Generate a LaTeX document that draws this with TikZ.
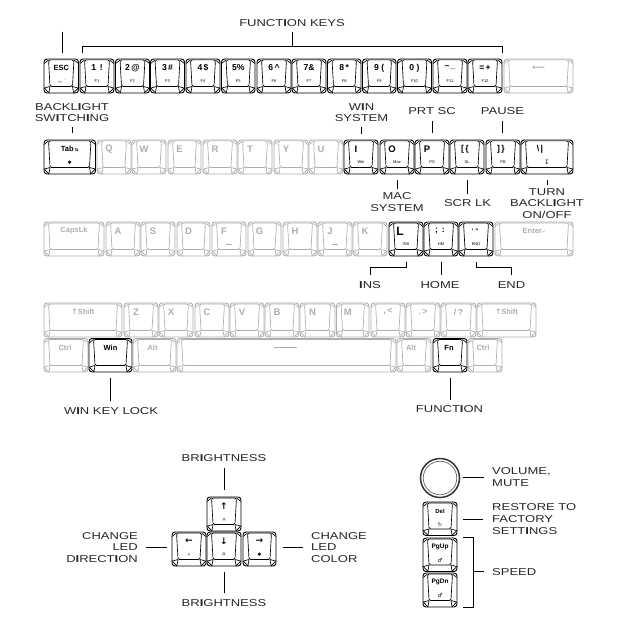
\documentclass[tikz,border=0pt]{standalone}
\usepackage{fontspec}
\setmainfont{Liberation Sans}
\newfontfamily\labfont[FakeStretch=1.3]{Liberation Sans}
\newfontfamily\symfont{DejaVu Sans}
\newcommand\I{{\bfseries I}}
\newcommand\sy[1]{{\symfont #1}}
\newcommand\bigk[1]{{\fontsize{9.5bp}{10bp}\selectfont #1}}
\newcommand\midk[1]{{\fontsize{8.6bp}{9bp}\selectfont #1}}
\newcommand\arrk[1]{{\fontsize{9bp}{9bp}\selectfont\symfont\bfseries #1}}
\def\kcol{black}\def\ytop{59}\def\ybot{93}
\newcommand\kk[6]{%
  % name, x1, x2, legend dx, legend, sublegend
  \pgfmathsetmacro\kcx{(#2+#3)/2}\pgfmathsetmacro\kcy{(\ytop+\ybot)/2}%
  \pgfmathsetmacro\kw{#3-#2}\pgfmathsetmacro\kh{\ybot-\ytop}%
  \pgfmathsetmacro\klx{\kcx+#4}\pgfmathsetmacro\kly{\ytop+9}\pgfmathsetmacro\ksy{\ytop+22.5}%
  \node[keycap,draw=\kcol,minimum width=\kw bp,minimum height=\kh bp] (#1) at (\kcx,\kcy) {};
  \draw[keyline,draw=\kcol,rounded corners=1.6bp]
    ([shift={(5,1.4)}]#1.north west) -- ([shift={(-5,1.4)}]#1.north east)
    -- ([shift={(-6.5,-7)}]#1.south east) -- ([shift={(6.5,-7)}]#1.south west) -- cycle;
  \draw[keyline,draw=\kcol]
    ([shift={(0.6,5)}]#1.north west) -- ([shift={(5,1.4)}]#1.north west)
    ([shift={(-0.6,5)}]#1.north east) -- ([shift={(-5,1.4)}]#1.north east)
    ([shift={(0.7,-5.4)}]#1.south west) -- ([shift={(6.5,-7)}]#1.south west) -- ([shift={(5.4,-0.7)}]#1.south west) -- cycle
    ([shift={(-0.7,-5.4)}]#1.south east) -- ([shift={(-6.5,-7)}]#1.south east) -- ([shift={(-5.4,-0.7)}]#1.south east) -- cycle;
  \node[legend,text=\kcol] (#1-a) at (\klx,\kly) {#5};
  \node[sublegend,text=\kcol] (#1-b) at (\kcx,\ksy) {#6};
}
\tikzset{
  keycap/.style={rectangle,rounded corners=3bp,inner sep=0pt,line width=0.95bp,fill=none},
  keyline/.style={line width=0.65bp},
  legend/.style={inner sep=0pt,font=\fontsize{7.5bp}{8bp}\selectfont\bfseries},
  sublegend/.style={inner sep=0pt,font=\fontsize{4bp}{4bp}\selectfont},
  lab/.style={inner sep=0pt,align=center,font=\labfont\fontsize{10bp}{11.6bp}\selectfont,text=black!85},
  conn/.style={line width=0.8bp,draw=black},
}
\colorlet{ghost}{black!32}
\begin{document}
\begin{tikzpicture}[x=1bp,y=-1bp]
\useasboundingbox (0,0) rectangle (627,642);
% function row
\def\kcol{black}\def\ytop{59}\def\ybot{93}
\kk{k-esc}{44}{78.5}{0}{ESC}{$\sim$ \`{}}
\kk{k-1}{80}{114}{0}{\midk{1\ \,!}}{F1}
\kk{k-2}{115.5}{149.5}{0}{\midk{2\,@}}{F2}
\kk{k-3}{150.5}{184.5}{0}{\midk{3\,\#}}{F3}
\kk{k-4}{186}{220}{0}{\midk{4\,\$}}{F4}
\kk{k-5}{221.5}{255}{0}{\midk{5\%}}{F5}
\kk{k-6}{257}{291}{0}{\midk{6\,\textasciicircum}}{F6}
\kk{k-7}{292}{326}{0}{\midk{7\&}}{F7}
\kk{k-8}{327.5}{361}{0}{\midk{8\,*}}{F8}
\kk{k-9}{362.5}{396}{0}{\midk{9\ (}}{F9}
\kk{k-0}{397.5}{431.5}{0}{\midk{0\ )}}{F10}
\kk{k-min}{433}{467}{0}{\midk{–\,\_}}{F11}
\kk{k-eq}{468}{502}{0}{\midk{=\,+}}{F12}
\def\kcol{ghost}
\kk{k-bs}{504}{573}{0}{\arrk{⟵}}{}
% qwerty row
\def\ytop{140}\def\ybot{174}
\def\kcol{black}
\kk{k-tab}{44}{95.5}{0}{Tab\,{\fontsize{4.5bp}{4bp}\selectfont\sy{⇆}}}{\fontsize{5bp}{5bp}\selectfont\sy{✱}}
\def\kcol{ghost}
\kk{k-q}{97}{131}{-5}{\bigk{Q}}{}
\kk{k-w}{132}{166}{-5}{\bigk{W}}{}
\kk{k-e}{168}{201}{-5}{\bigk{E}}{}
\kk{k-r}{203}{237}{-5}{\bigk{R}}{}
\kk{k-t}{238}{272}{-5}{\bigk{T}}{}
\kk{k-y}{274}{308}{-5}{\bigk{Y}}{}
\kk{k-u}{309}{343}{-5}{\bigk{U}}{}
\def\kcol{black}
\kk{k-i}{344}{378}{-5}{\bigk{I}}{Win}
\kk{k-o}{380}{414}{-5}{\bigk{O}}{Mac}
\kk{k-p}{415}{449}{-5}{\bigk{P}}{PS}
\kk{k-lb}{450}{484}{-2}{\midk{[\,\{}}{SL}
\kk{k-rb}{486}{520}{-2}{\midk{]\,\}}}{PB}
\kk{k-bsl}{521}{573}{-7}{\midk{\textbackslash\,|}}{\fontsize{6bp}{5bp}\selectfont\sy{↧}}
% home row
\def\ytop{222}\def\ybot{256}
\def\kcol{ghost}
\kk{k-caps}{44}{104}{0}{CapsLk}{}
\kk{k-a}{106}{140}{-5}{\bigk{A}}{}
\kk{k-s}{141}{175}{-5}{\bigk{S}}{}
\kk{k-d}{177}{210}{-5}{\bigk{D}}{}
\kk{k-f}{212}{246}{-5}{\bigk{F}}{\rule{6bp}{1.1bp}}
\kk{k-g}{248}{281}{-5}{\bigk{G}}{}
\kk{k-h}{283}{317}{-5}{\bigk{H}}{}
\kk{k-j}{318}{352}{-5}{\bigk{J}}{\rule{6bp}{1.1bp}}
\kk{k-k}{353}{387}{-5}{\bigk{K}}{}
\def\kcol{black}
\kk{k-l}{389}{423}{-6}{{\fontsize{12bp}{12bp}\selectfont L}}{INS}
\kk{k-sc}{424}{458}{-1}{\midk{;\ \,:}}{HM}
\kk{k-qt}{459}{493}{-1}{{\fontsize{6.5bp}{6bp}\selectfont ' "}}{END}
\def\kcol{ghost}
\kk{k-ent}{495}{573}{0}{Enter{\fontsize{4bp}{4bp}\selectfont\sy{↵}}}{}
% shift row
\def\ytop{303}\def\ybot{337}
\kk{k-lsh}{44}{122}{0}{\sy{↑}Shift}{}
\kk{k-z}{124}{158}{-5}{\bigk{Z}}{}
\kk{k-x}{159}{193}{-5}{\bigk{X}}{}
\kk{k-c}{195}{229}{-5}{\bigk{C}}{}
\kk{k-v}{230}{264}{-5}{\bigk{V}}{}
\kk{k-b}{265}{299}{-5}{\bigk{B}}{}
\kk{k-n}{300}{335}{-5}{\bigk{N}}{}
\kk{k-m}{336.5}{369}{-5}{\bigk{M}}{}
\kk{k-cm}{371}{405}{0}{\midk{,\,<}}{}
\kk{k-pd}{406}{440}{0}{\midk{.\,>}}{}
\kk{k-sl}{441}{476}{0}{\midk{/\,?}}{}
\kk{k-rsh}{477}{536}{0}{\sy{↑}Shift}{}
% bottom row
\def\ytop{338.5}\def\ybot{372}
\kk{k-lc}{44}{88}{-1}{Ctrl}{}
\def\kcol{black}
\kk{k-win}{89}{132}{0}{Win}{}
\def\kcol{ghost}
\kk{k-alt}{133}{176}{-2}{Alt}{}
\kk{k-sp}{177}{396}{-1}{\rule{23bp}{1.2bp}}{}
\kk{k-ar}{397}{431}{-3}{Alt}{}
\def\kcol{black}
\kk{k-fn}{433}{467}{-1}{Fn}{}
\def\kcol{ghost}
\kk{k-rc}{468}{502}{-2}{Ctrl}{}
% arrow cluster
\def\kcol{black}
\def\ytop{497}\def\ybot{531}
\kk{k-up}{207}{241}{0}{\arrk{↑}}{\fontsize{5bp}{5bp}\selectfont\sy{☼}}
\def\ytop{532}\def\ybot{566}
\kk{k-left}{172}{206}{0}{\arrk{←}}{\fontsize{4.5bp}{5bp}\selectfont\sy{⚡}}
\kk{k-dn}{207}{241}{0}{\arrk{↓}}{\fontsize{5bp}{5bp}\selectfont\sy{⌂}}
\kk{k-right}{243}{276}{0}{\arrk{→}}{\fontsize{5bp}{5bp}\selectfont\sy{✱}}
% right column
\node[circle,draw=black!80,line width=1.5bp,minimum size=39bp,inner sep=0pt] (k-vol) at (440,478) {};
\node[circle,draw=black!60,line width=0.7bp,minimum size=33.5bp,inner sep=0pt] (k-vol2) at (440,478) {};
\def\ytop{502}\def\ybot{535.5}
\kk{k-del}{423}{457}{0}{{\fontsize{6bp}{6bp}\selectfont Del}}{\fontsize{5bp}{5bp}\selectfont\sy{↻}}
\def\ytop{538}\def\ybot{571.5}
\kk{k-pu}{423}{457}{0}{{\fontsize{6.5bp}{6bp}\selectfont PgUp}}{\fontsize{5.5bp}{5bp}\selectfont\sy{♂}}
\def\ytop{573}\def\ybot{607}
\kk{k-pd2}{423}{457}{0}{{\fontsize{6.5bp}{6bp}\selectfont PgDn}}{\fontsize{5.5bp}{5bp}\selectfont\sy{♂}}
% labels
\node[lab] (l-fn) at (292,23) {FUNCT\I ON KEYS};
\node[lab] (l-bl) at (72,112.5) {BACKL\I GHT\\SW\I TCH\I NG};
\node[lab] (l-wins) at (361.5,112.5) {W\I N\\SYSTEM};
\node[lab] (l-prt) at (432,111) {PRT SC};
\node[lab] (l-pau) at (502.5,111) {PAUSE};
\node[lab] (l-mac) at (397,202) {MAC\\SYSTEM};
\node[lab] (l-scr) at (467.5,203) {SCR LK};
\node[lab] (l-turn) at (547,203.5) {TURN\\BACKL\I GHT\\ON/OFF};
\node[lab] (l-ins) at (370,285) {\I NS};
\node[lab] (l-home) at (440,285) {HOME};
\node[lab] (l-end) at (511.5,285) {END};
\node[lab] (l-wkl) at (111,411) {W\I N KEY LOCK};
\node[lab] (l-func) at (449.5,409.5) {FUNCT\I ON};
\node[lab] (l-bt) at (224,458) {BR\I GHTNESS};
\node[lab] (l-bb) at (224,603) {BR\I GHTNESS};
\node[lab,align=right,anchor=east] (l-dir) at (138,547.5) {CHANGE\\LED\\D\I RECT\I ON};
\node[lab,align=left,anchor=west] (l-col) at (311,547.5) {CHANGE\\LED\\COLOR};
\node[lab,align=left,anchor=west] (l-vol) at (492,477) {VOLUME,\\MUTE};
\node[lab,align=left,anchor=west] (l-res) at (492,519) {RESTORE TO\\FACTORY\\SETT\I NGS};
\node[lab,align=left,anchor=west] (l-spd) at (492,572) {SPEED};
% connectors
\coordinate (c-esc) at (62.5,32);
\draw[conn,shorten >=6bp] (c-esc) -- (c-esc |- k-esc.north);
\coordinate (c-fl) at (82,46);
\coordinate (c-fr) at (502.5,46);
\draw[conn,shorten <=6bp,shorten >=6bp] (c-fl |- k-1.north) -- (c-fl) -- (c-fr) -- (c-fr |- k-eq.north);
\draw[conn,shorten <=5bp] (l-fn.south) -- (l-fn.south |- c-fl);
\draw[conn,shorten <=5bp,shorten >=7bp] (l-bl.south) -- (l-bl.south |- k-tab.north);
\draw[conn,shorten <=5bp,shorten >=6bp] (l-wins.south) -- (l-wins.south |- k-i.north);
\draw[conn,shorten <=6bp,shorten >=7bp] (l-prt.south) -- (l-prt.south |- k-p.north);
\draw[conn,shorten <=6bp,shorten >=7bp] (l-pau.south) -- (l-pau.south |- k-rb.north);
\draw[conn,shorten <=6bp,shorten >=3.4bp] (k-o.south) -- (k-o.south |- l-mac.north);
\draw[conn,shorten <=6bp,shorten >=5.4bp] (k-lb.south) -- (k-lb.south |- l-scr.north);
\draw[conn,shorten <=6bp,shorten >=3.4bp] (k-bsl.south) -- (k-bsl.south |- l-turn.north);
\draw[conn,shorten <=6bp,shorten >=6bp] (k-l.south) -- ++(0,11) -| (l-ins.north);
\draw[conn,shorten <=6bp,shorten >=6bp] (k-sc.south) -- (k-sc.south |- l-home.north);
\draw[conn,shorten <=6bp,shorten >=6bp] (k-qt.south) -- ++(0,11) -| (l-end.north);
\draw[conn,shorten <=6bp,shorten >=6bp] (k-win.south) -- (k-win.south |- l-wkl.north);
\draw[conn,shorten <=6bp,shorten >=5.4bp] (k-fn.south) -- (k-fn.south |- l-func.north);
\draw[conn,shorten <=6.4bp,shorten >=7bp] (l-bt.south) -- (l-bt.south |- k-up.north);
\draw[conn,shorten <=6bp,shorten >=6bp] (k-dn.south) -- (k-dn.south |- l-bb.north);
\draw[conn,shorten <=8bp,shorten >=5bp] (l-dir.east) -- (l-dir.east -| k-left.west);
\draw[conn,shorten <=7bp,shorten >=8bp] (l-col.west -| k-right.east) -- (l-col.west);
\draw[conn,shorten <=3bp,shorten >=8bp] (l-vol.west -| k-vol.east) -- (l-vol.west);
\draw[conn,shorten <=6bp,shorten >=9bp] (l-res.west -| k-del.east) -- (l-res.west);
\coordinate (c-sp) at (473,571.5);
\draw[conn,shorten <=6bp,shorten >=6bp] (k-pu.north east) -- (c-sp |- k-pu.north) -- (c-sp |- k-pd2.south) -- (k-pd2.south east);
\draw[conn,shorten >=8bp] (c-sp) -- (c-sp -| l-spd.west);
\end{tikzpicture}
\end{document}
